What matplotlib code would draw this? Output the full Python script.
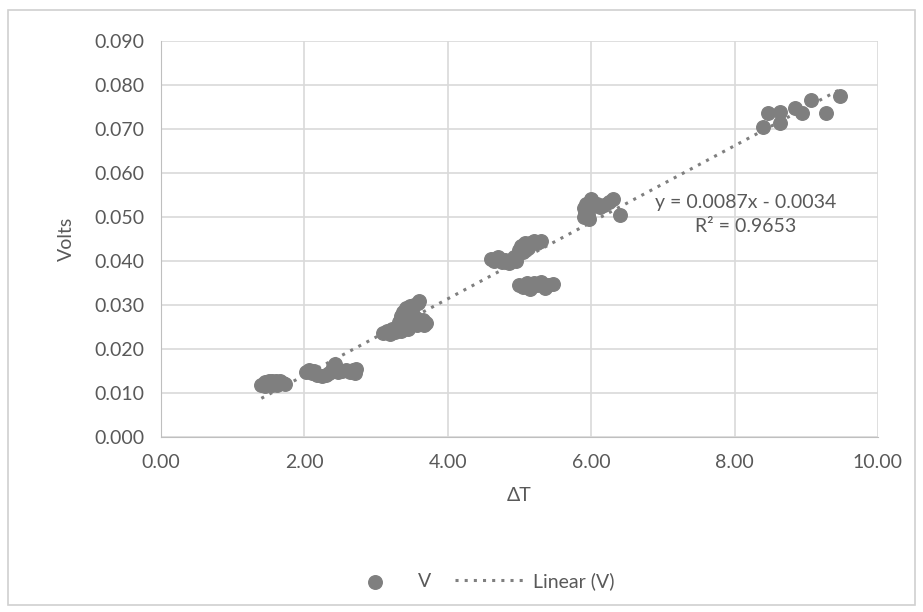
import matplotlib.pyplot as plt
from matplotlib.patches import Rectangle

plt.rcParams['font.family'] = ['Lato', 'DejaVu Sans']

# measured temperature difference (dT) and output voltage, grouped by run
dT = [1.40, 1.45, 1.48, 1.50, 1.53, 1.55, 1.58, 1.60, 1.63, 1.66, 1.70, 1.73, 1.45, 1.55, 1.62,
      2.02, 2.07, 2.10, 2.13, 2.18, 2.25, 2.30, 2.35, 2.40, 2.43, 2.40, 2.47, 2.52, 2.58, 2.63, 2.68, 2.72, 2.70,
      3.10, 3.15, 3.20, 3.22, 3.27, 3.30, 3.32, 3.35, 3.37, 3.38, 3.40, 3.42, 3.43, 3.45, 3.47, 3.50, 3.50,
      3.53, 3.55, 3.58, 3.60, 3.57, 3.62, 3.67, 3.70, 3.65, 3.45, 3.35,
      4.60, 4.65, 4.70, 4.75, 4.80, 4.85, 4.92, 5.00, 5.02, 5.05, 5.08, 5.12, 5.15, 5.20, 5.25, 5.30, 4.95,
      5.00, 5.05, 5.10, 5.15, 5.20, 5.25, 5.30, 5.35, 5.40, 5.47, 5.12,
      5.90, 5.92, 5.90, 5.93, 5.95, 6.00, 6.02, 6.08, 6.12, 6.18, 6.25, 6.30, 6.40, 5.97,
      8.40, 8.47, 8.64, 8.64, 8.84, 8.94, 9.07, 9.27, 9.47]
volts = [0.0118, 0.0124, 0.0120, 0.0127, 0.0122, 0.0128, 0.0124, 0.0128, 0.0125, 0.0127, 0.0123, 0.0121, 0.0116, 0.0117, 0.0119,
         0.0148, 0.0152, 0.0145, 0.0150, 0.0141, 0.0138, 0.0140, 0.0145, 0.0160, 0.0166, 0.0150, 0.0147, 0.0150, 0.0153, 0.0148, 0.0152, 0.0155, 0.0146,
         0.0237, 0.0240, 0.0235, 0.0245, 0.0238, 0.0250, 0.0262, 0.0275, 0.0255, 0.0285, 0.0268, 0.0293, 0.0250, 0.0278, 0.0298, 0.0262, 0.0288,
         0.0300, 0.0270, 0.0305, 0.0310, 0.0255, 0.0258, 0.0255, 0.0260, 0.0265, 0.0245, 0.0240,
         0.0405, 0.0400, 0.0408, 0.0398, 0.0403, 0.0395, 0.0410, 0.0425, 0.0435, 0.0420, 0.0440, 0.0430, 0.0442, 0.0445, 0.0442, 0.0445, 0.0400,
         0.0345, 0.0340, 0.0350, 0.0336, 0.0350, 0.0345, 0.0352, 0.0338, 0.0345, 0.0347, 0.0346,
         0.0500, 0.0510, 0.0520, 0.0530, 0.0505, 0.0540, 0.0525, 0.0530, 0.0522, 0.0528, 0.0535, 0.0542, 0.0505, 0.0495,
         0.0705, 0.0737, 0.0739, 0.0714, 0.0747, 0.0736, 0.0766, 0.0737, 0.0775]

# linear trendline coefficients
slope = 0.0087
intercept = -0.0034
r2 = 0.9653

xticks = [0, 2, 4, 6, 8, 10]
yticks = [0.0, 0.01, 0.02, 0.03, 0.04, 0.05, 0.06, 0.07, 0.08, 0.09]

textColor = '#595959'
gridColor = '#d9d9d9'

fig = plt.figure(figsize=(9.23, 6.12), dpi=100)
ax = fig.add_axes([0.1744, 0.286, 0.7768, 0.647])

ax.scatter(dT, volts, s=95, color='#7f7f7f', zorder=3, label='V')

xa = min(dT)
xb = max(dT)
ax.plot([xa, xb], [slope*xa + intercept, slope*xb + intercept], linestyle=(0, (1, 2)),
        color='#7f7f7f', linewidth=2.2, zorder=4, label='Linear (V)')

ax.text(8.15, 0.0534, 'y = 0.0087x - 0.0034', ha='center', va='center', fontsize=14, color=textColor)
ax.text(8.15, 0.0478, 'R² = %.4f' % r2, ha='center', va='center', fontsize=14, color=textColor)

ax.set_xlim(0, 10)
ax.set_ylim(0, 0.09)
ax.set_xticks(xticks)
ax.set_yticks(yticks)
ax.set_xticklabels(['%.2f' % v for v in xticks])
ax.set_yticklabels(['%.3f' % v for v in yticks])
ax.tick_params(length=0, labelsize=14, colors=textColor, pad=12)
ax.grid(True, color=gridColor, linewidth=1.2)
ax.set_axisbelow(True)
for s in ax.spines.values():
    s.set_visible(False)
ax.spines['left'].set_visible(True)
ax.spines['bottom'].set_visible(True)
ax.spines['left'].set_color('#bfbfbf')
ax.spines['bottom'].set_color('#bfbfbf')

ax.set_xlabel('ΔT', fontsize=14, color=textColor, labelpad=12)
ax.set_ylabel('Volts', fontsize=14, color=textColor, labelpad=14)

fig.legend(loc='center', bbox_to_anchor=(0.517, 0.051), ncol=2, frameon=False,
           fontsize=14, labelcolor=textColor, handlelength=3.6, handletextpad=0.4,
           columnspacing=1.2)

# outer chart frame
fig.patches.append(Rectangle((0.009, 0.012), 0.982, 0.972, transform=fig.transFigure,
                             fill=False, edgecolor='#d0d0d0', linewidth=1.2))

fig.savefig('out.png', dpi=100)
